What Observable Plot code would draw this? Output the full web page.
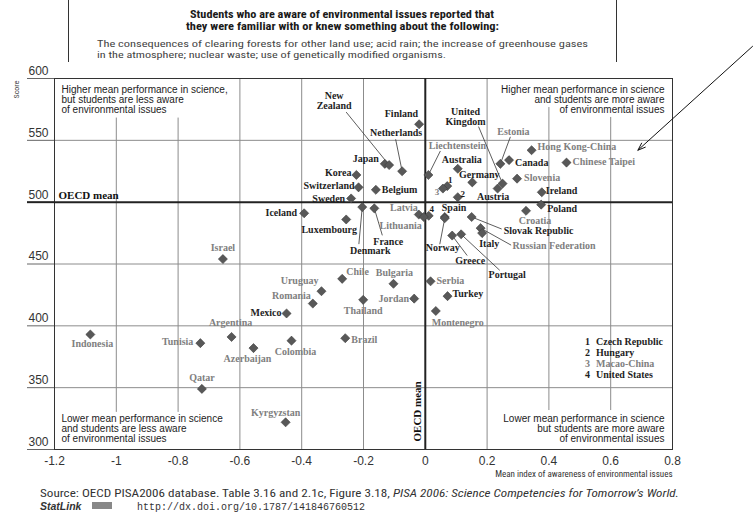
<!DOCTYPE html>
<html><head><meta charset="utf-8">
<script src="https://cdn.jsdelivr.net/npm/d3@7"></script>
<script src="https://cdn.jsdelivr.net/npm/@observablehq/plot@0.6"></script>
<style>
html,body{margin:0;padding:0;background:#fff;}
#wrap{position:relative;width:754px;height:513px;overflow:hidden;}
#wrap svg{position:absolute;left:0;top:0;}
</style></head><body><div id="wrap"></div>
<script>
// ---------- data ----------
const countries = ["Finland","Hong Kong-China","Canada","Chinese Taipei","Estonia","Japan","New Zealand","Australia","Netherlands","Liechtenstein",
"Korea","Slovenia","Germany","United Kingdom","Czech Republic","Switzerland","Macao-China","Austria","Belgium","Ireland",
"Hungary","Sweden","Poland","Denmark","France","Croatia","Iceland","Latvia","United States","Slovak Republic",
"Spain","Lithuania","Norway","Luxembourg","Russian Federation","Italy","Portugal","Greece","Israel","Chile",
"Serbia","Bulgaria","Uruguay","Turkey","Jordan","Thailand","Romania","Montenegro","Mexico","Indonesia",
"Argentina","Brazil","Colombia","Tunisia","Azerbaijan","Qatar","Kyrgyzstan"];
const scienceScore = [563,542,534,532,531,531,530,527,525,522,
522,519,516,515,513,512,511,511,510,508,
504,503,498,496,495,493,491,490,489,488,
488,488,487,486,479,475,474,473,454,438,
436,434,428,424,422,421,418,412,410,393,
391,390,388,386,382,349,322];
const awarenessIndex = [-0.02,0.344,0.271,0.457,0.243,-0.131,-0.117,0.105,-0.075,0.01,
-0.223,0.297,0.152,0.25,0.071,-0.216,0.057,0.234,-0.16,0.377,
0.105,-0.24,0.375,-0.204,-0.165,0.326,-0.392,-0.021,0.011,0.15,
0.063,-0.005,0.063,-0.256,0.179,0.184,0.116,0.087,-0.655,-0.269,
0.017,-0.103,-0.336,0.072,-0.036,-0.201,-0.364,0.034,-0.449,-1.084,
-0.627,-0.259,-0.433,-0.728,-0.556,-0.723,-0.452];
const oecdMember = [true,false,true,false,false,true,true,true,true,false,
true,false,true,true,true,true,false,true,true,true,
true,true,true,true,true,false,true,false,true,true,
true,false,true,true,false,true,true,true,false,false,
false,false,false,true,false,false,false,false,true,false,
false,false,false,false,false,false,false];
const wrappedNames = {"New Zealand": "New\nZealand", "United Kingdom": "United\nKingdom"};

const legendNumbers = ["1","2","3","4"];
const legendNames = ["Czech Republic","Hungary","Macao-China","United States"];

const xTicks = [-1.2,-1,-0.8,-0.6,-0.4,-0.2,0,0.2,0.4,0.6,0.8];
const yTicks = [300,350,400,450,500,550,600];
const oecdMeanScore = 500;
const oecdMeanIndex = 0;

const quadTopLeft = "Higher mean performance in science,\nbut students are less aware\nof environmental issues";
const quadTopRight = "Higher mean performance in science\nand students are more aware\nof environmental issues";
const quadBottomLeft = "Lower mean performance in science\nand students are less aware\nof environmental issues";
const quadBottomRight = "Lower mean performance in science\nbut students are more aware\nof environmental issues";
const xTitle = "Mean index of awareness of environmental issues";
const yTitle = "Score";

// ---------- label layout (anchor, dx px, dy px, optional leader end offset px) ----------
const layout = {
 "Finland":["end",-1,-10], "Hong Kong-China":["start",6,-3], "Canada":["start",6,3], "Chinese Taipei":["start",6,-1],
 "Estonia":["middle",13,-32,[10,-27]], "Japan":["end",-6,-5], "New Zealand":["middle",-55,-64,[-43,-53]],
 "Australia":["middle",4,-9], "Netherlands":["middle",-6,-38,[-6.5,-32]], "Liechtenstein":["middle",29,-29,[12,-24]],
 "Korea":["end",-5,-2], "Slovenia":["start",7,-1], "Germany":["middle",7,-8], "United Kingdom":["middle",-37,-67,[-24,-57]],
 "Czech Republic":["middle",3,-6], "Switzerland":["end",-4,-2], "Macao-China":["middle",-6,4], "Austria":["middle",-4.5,8],
 "Belgium":["start",6,0], "Ireland":["start",4,-1], "Hungary":["middle",5,-3], "Sweden":["end",-6,0], "Poland":["start",6,4],
 "Denmark":["middle",8,44,[-3.4,37]], "France":["middle",14,33,[8,27]], "Croatia":["middle",9,10], "Iceland":["end",-7,0],
 "Latvia":["end",-1,-7], "United States":["middle",3,-7], "Slovak Republic":["start",32,14,[30,12]], "Spain":["start",-3,-9],
 "Lithuania":["end",-2,9], "Norway":["middle",-2,30,[-5,26]], "Luxembourg":["middle",-17,10],
 "Russian Federation":["start",32,18,[30.5,17]], "Italy":["middle",7,11], "Portugal":["middle",46,40,[38.6,36]],
 "Greece":["middle",18,25,[15,20]], "Israel":["middle",0,-11], "Chile":["start",4,-7], "Serbia":["start",6,-1],
 "Bulgaria":["middle",1,-11], "Uruguay":["end",-3,-10], "Turkey":["start",5,-2], "Jordan":["end",-5,0],
 "Thailand":["middle",0,11], "Romania":["end",-2,-8], "Montenegro":["middle",22,12], "Mexico":["end",-5,-1],
 "Indonesia":["middle",2,9], "Argentina":["middle",-1,-14], "Brazil":["start",6,2], "Colombia":["middle",4,11],
 "Tunisia":["end",-7,-1], "Azerbaijan":["middle",-6,11], "Qatar":["middle",0,-11], "Kyrgyzstan":["middle",-10,-9]
};

// ---------- geometry ----------
const W = 754, H = 513, ML = 54, MR = 82, MT = 78, MB = 64;
const xDomain = [xTicks[0], xTicks[xTicks.length-1]];
const yDomain = [yTicks[0], yTicks[yTicks.length-1]];
const kx = (W-ML-MR)/(xDomain[1]-xDomain[0]);
const ky = (H-MT-MB)/(yDomain[1]-yDomain[0]);
const tickReach = xDomain[0] - 27/kx;   // long y ticks reach 27px left of the frame

const labelFont = "'Liberation Serif','DejaVu Serif',serif";
const sansFont = "'Liberation Sans',Arial,sans-serif";
const narrowFont = "'Liberation Sans Narrow','Roboto Condensed','DejaVu Sans Condensed','Liberation Sans',sans-serif";
const darkText = "#1e1e1e", greyText = "#808080", gridColor = "#8c8c8c";

const rows = countries.map((name,i) => {
  const L = layout[name];
  const li = legendNames.indexOf(name);
  return {
    name, x: awarenessIndex[i], y: scienceScore[i], oecd: oecdMember[i],
    text: li >= 0 ? legendNumbers[li] : (wrappedNames[name] || name),
    isNum: li >= 0,
    anchor: L[0],
    lx: awarenessIndex[i] + L[1]/kx, ly: scienceScore[i] - L[2]/ky,
    leader: L[3] ? {x1: awarenessIndex[i], y1: scienceScore[i], x2: awarenessIndex[i] + L[3][0]/kx, y2: scienceScore[i] - L[3][1]/ky} : null
  };
});
const leaders = rows.filter(d => d.leader).map(d => d.leader);

// vertical grid lines; some are interrupted by the quadrant notes
const gridFull = [-0.6,-0.4,-0.2,0.2];
const gridPartial = [{x:-1,y1:330,y2:568},{x:-0.8,y1:330,y2:568},{x:0.4,y1:331.5,y2:576.5},{x:0.6,y1:331.5,y2:568.5}];
const gridY = [350,400,450,550];

const arrowAnno = [{x1:1.059, y1:626, x2:0.688, y2:542}];

function labelMarks(anchor, isNum) {
  return Plot.text(rows.filter(d => d.anchor === anchor && d.isNum === isNum), {
    x: "lx", y: "ly", text: "text", textAnchor: anchor,
    fill: d => d.oecd ? darkText : greyText,
    fontFamily: labelFont, fontWeight: "bold", fontSize: isNum ? 9 : 10, lineHeight: 1.0
  });
}

const legendMarks = [];
legendNumbers.forEach((n,i) => {
  const oecd = oecdMember[countries.indexOf(legendNames[i])];
  const dy = -104.5 + i*11;
  legendMarks.push(Plot.text([n], {frameAnchor:"bottom-right", dx:-85, dy, textAnchor:"middle",
    fill: oecd ? darkText : greyText, fontFamily: labelFont, fontWeight:"bold", fontSize:10}));
  legendMarks.push(Plot.text([legendNames[i]], {frameAnchor:"bottom-right", dx:-76.5, dy, textAnchor:"start",
    fill: oecd ? darkText : greyText, fontFamily: labelFont, fontWeight:"bold", fontSize:10}));
});

const chart = Plot.plot({
  width: W, height: H, marginLeft: ML, marginRight: MR, marginTop: MT, marginBottom: MB,
  x: {domain: xDomain}, y: {domain: yDomain},
  color: {type: "identity"},
  style: {fontFamily: sansFont, color: "#333", background: "transparent", overflow: "visible"},
  marks: [
    Plot.ruleY(gridY, {stroke: gridColor, strokeWidth: 1}),
    Plot.ruleX(gridFull, {stroke: gridColor, strokeWidth: 1}),
    Plot.ruleX(gridPartial, {x: "x", y1: "y1", y2: "y2", stroke: gridColor, strokeWidth: 1}),
    // long left ticks and their labels sitting just above them
    Plot.ruleY(yTicks.filter(v => v !== oecdMeanScore), {x1: tickReach, x2: xDomain[0], stroke: "#666", strokeWidth: 1, clip: false}),
    Plot.ruleY([oecdMeanScore], {x1: tickReach, x2: xDomain[0], stroke: "#222", strokeWidth: 2, clip: false}),
    Plot.axisY({ticks: yTicks, tickSize: 0, tickPadding: 6, dy: -7.5, label: null, fontSize: 12,
      fill: "#333", fontFamily: sansFont}),
    Plot.axisX({ticks: xTicks, tickSize: 0, tickPadding: 7, tickFormat: d => String(d), label: null, fontSize: 12,
      fill: "#333", fontFamily: sansFont}),
    Plot.frame({stroke: "#333", strokeWidth: 1}),
    Plot.ruleY([oecdMeanScore], {stroke: "#222", strokeWidth: 2}),
    Plot.ruleX([oecdMeanIndex], {stroke: "#222", strokeWidth: 2}),
    Plot.link(leaders, {x1: "x1", y1: "y1", x2: "x2", y2: "y2", stroke: "#333", strokeWidth: 0.8}),
    Plot.dot(rows, {x: "x", y: "y", symbol: "diamond2", r: 4.1, fill: "#585858", stroke: "#3c3c3c", strokeWidth: 0.6}),
    labelMarks("start", false), labelMarks("middle", false), labelMarks("end", false),
    labelMarks("middle", true),
    Plot.text([quadTopLeft], {frameAnchor: "top-left", dx: 7, dy: 7.5, lineAnchor: "top", textAnchor: "start", lineHeight: 1.0, fontSize: 10, fill: "#222", fontFamily: sansFont}),
    Plot.text([quadTopRight], {frameAnchor: "top-right", dx: -8, dy: 7.5, lineAnchor: "top", textAnchor: "end", lineHeight: 1.0, fontSize: 10, fill: "#222", fontFamily: sansFont}),
    Plot.text([quadBottomLeft], {frameAnchor: "bottom-left", dx: 7, dy: -7.5, lineAnchor: "bottom", textAnchor: "start", lineHeight: 1.0, fontSize: 10, fill: "#222", fontFamily: sansFont}),
    Plot.text([quadBottomRight], {frameAnchor: "bottom-right", dx: -8, dy: -7.5, lineAnchor: "bottom", textAnchor: "end", lineHeight: 1.0, fontSize: 10, fill: "#222", fontFamily: sansFont}),
    Plot.text(["OECD mean"], {x: () => xDomain[0], y: () => oecdMeanScore, dx: 4, dy: -6.5, textAnchor: "start", fontWeight: "bold", fontSize: 11, fill: "#111", fontFamily: labelFont}),
    Plot.text(["OECD mean"], {x: () => oecdMeanIndex, y: () => yDomain[0], dx: -8, dy: -8, rotate: -90, textAnchor: "start", fontWeight: "bold", fontSize: 11, fill: "#111", fontFamily: labelFont}),
    Plot.text([yTitle], {frameAnchor: "top-left", dx: -41, dy: 11, rotate: -90, textAnchor: "middle", fontSize: 8, fill: "#444", fontFamily: narrowFont}),
    Plot.text([xTitle], {frameAnchor: "bottom-right", dy: 27, textAnchor: "end", fontSize: 9, fill: "#333", fontFamily: narrowFont}),
    ...legendMarks,
    Plot.arrow(arrowAnno, {x1: "x1", y1: "y1", x2: "x2", y2: "y2", stroke: "#111", strokeWidth: 1, headLength: 12, headAngle: 40})
  ]
});
document.getElementById("wrap").appendChild(chart);

// ---------- header & footer ----------
const titleLines = ["Students who are aware of environmental issues reported that", "they were familiar with or knew something about the following:"];
const subtitleLines = ["The consequences of clearing forests for other land use; acid rain; the increase of greenhouse gases", "in the atmosphere; nuclear waste; use of genetically modified organisms."];
const ns = "http://www.w3.org/2000/svg";
const ov = document.createElementNS(ns, "svg");
ov.setAttribute("width", W); ov.setAttribute("height", H);
ov.style.pointerEvents = "none";
function addText(str, attrs) {
  const t = document.createElementNS(ns, "text");
  for (const k in attrs) t.setAttribute(k, attrs[k]);
  t.textContent = str; ov.appendChild(t); return t;
}
function addLine(x1,y1,x2,y2,stroke,w) {
  const l = document.createElementNS(ns, "line");
  l.setAttribute("x1",x1); l.setAttribute("y1",y1); l.setAttribute("x2",x2); l.setAttribute("y2",y2);
  l.setAttribute("stroke",stroke); l.setAttribute("stroke-width",w); ov.appendChild(l);
}
addLine(68.5,0,68.5,62,"#333",1);
addLine(616.5,0,616.5,62,"#333",1);
addText(titleLines[0], {x:342, y:18, "text-anchor":"middle", "font-family":narrowFont, "font-weight":"bold", "font-size":10.5, fill:"#1a1a1a", textLength:304, lengthAdjust:"spacingAndGlyphs"});
addText(titleLines[1], {x:342.5, y:30, "text-anchor":"middle", "font-family":narrowFont, "font-weight":"bold", "font-size":10.5, fill:"#1a1a1a", textLength:313, lengthAdjust:"spacingAndGlyphs"});
addText(subtitleLines[0], {x:97, y:46.5, "font-family":narrowFont, "font-size":9.5, fill:"#444", textLength:491, lengthAdjust:"spacingAndGlyphs"});
addText(subtitleLines[1], {x:97, y:57.5, "font-family":narrowFont, "font-size":9.5, fill:"#444", textLength:349, lengthAdjust:"spacingAndGlyphs"});
const src = addText("Source: OECD PISA2006 database. Table 3.16 and 2.1c, Figure 3.18, ", {x:40, y:497, "font-family":narrowFont, "font-size":11.5, fill:"#333"});
const it = document.createElementNS(ns, "tspan");
it.setAttribute("font-style","italic"); it.textContent = "PISA 2006: Science Competencies for Tomorrow\u2019s World.";
src.appendChild(it);
src.setAttribute("textLength", 639); src.setAttribute("lengthAdjust", "spacingAndGlyphs");
addText("StatLink", {x:40, y:509.5, "font-family":sansFont, "font-size":10.5, "font-weight":"bold", "font-style":"italic", fill:"#333"});
const rect = document.createElementNS(ns, "rect");
rect.setAttribute("x",92); rect.setAttribute("y",502); rect.setAttribute("width",20); rect.setAttribute("height",7); rect.setAttribute("fill","#888");
ov.appendChild(rect);
addText("http://dx.doi.org/10.1787/141846760512", {x:137, y:509.5, "font-family":"'Liberation Mono','DejaVu Sans Mono',monospace", "font-size":10, fill:"#333"});
document.getElementById("wrap").appendChild(ov);
</script></body></html>
